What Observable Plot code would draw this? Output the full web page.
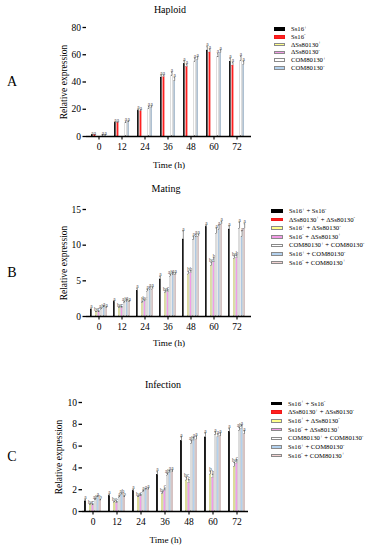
<!DOCTYPE html>
<html><head><meta charset="utf-8">
<script src="https://cdn.jsdelivr.net/npm/d3@7"></script>
<script src="https://cdn.jsdelivr.net/npm/@observablehq/plot@0.6"></script>
<style>
body{margin:0;background:#fff;}
#root{position:relative;width:368px;height:550px;font-family:"Liberation Serif","Times New Roman",serif;color:#000;overflow:hidden;background:#fff}
.abs{position:absolute}
.title{font-size:10px;transform:translate(-50%,-50%);white-space:nowrap}
.plabel{font-size:14px;transform:translate(-50%,-50%)}
.lg{position:absolute;font-size:6.7px;white-space:nowrap;line-height:1;transform:translateY(-50%)}
.sw{position:absolute;height:3.5px;box-sizing:border-box}
sup{font-size:72%;vertical-align:0;position:relative;top:-0.5em;line-height:0}
svg text{font-family:"Liberation Serif","Times New Roman",serif}
</style></head><body><div id="root"></div>
<script>
// ---------- data ----------
const times = ["0","12","24","36","48","60","72"];

// Panel A: Haploid
const hapLabels = ["Ss16^+","Ss16^-","ΔSs80130^+","ΔSs80130^-","COM80130^+","COM80130^-"];
const hapColors = ["#000000","#ff2020","#ffff8c","#f29be6","#ffffff","#b3d1ee"];
const hapBlack  = [0.9, 9.8, 18.6, 43.3, 53.0, 63.1, 54.8];
const hapRed    = [0.9, 9.7, 18.4, 43.4, 50.8, 61.6, 52.0];
const hapYellow = [0, 0, 0, 0, 0, 0, 0];
const hapPink   = [0, 0, 0, 0, 0, 0, 0];
const hapWhite  = [0.9, 10.0, 20.6, 44.8, 55.1, 58.1, 55.7];
const hapBlue   = [0.9, 10.4, 21.0, 40.6, 56.2, 61.3, 52.6];
const hapErrBlack  = [0.3, 0.8, 1.2, 1.8, 2.5, 2.8, 2.6];
const hapErrRed    = [0.3, 0.7, 1.0, 1.6, 2.2, 2.5, 2.2];
const hapErrWhite  = [0.3, 0.8, 1.4, 2.4, 2.4, 2.6, 3.2];
const hapErrBlue   = [0.3, 0.8, 1.3, 2.6, 2.2, 2.2, 2.6];
const hapLetters   = ["a","a","a","a","a","a","a"];

// Panel B: Mating
const matLabels = ["Ss16^+ + Ss16^-","ΔSs80130^+ + ΔSs80130^-","Ss16^+ + ΔSs80130^-","Ss16^- + ΔSs80130^+","COM80130^+ + COM80130^-","Ss16^+ + COM80130^-","Ss16^- + COM80130^+"];
const pairColors = ["#000000","#ff2020","#ffff8c","#f29be6","#ffffff","#b3d1ee","#f4d4d4"];
const matBlack  = [0.95, 2.0, 3.6, 5.2, 10.8, 12.5, 12.2];
const matRed    = [0, 0, 0, 0, 0, 0, 0];
const matYellow = [0.6, 1.2, 1.9, 3.3, 5.9, 7.1, 8.1];
const matPink   = [0.6, 1.2, 2.1, 3.4, 6.1, 7.6, 8.2];
const matWhite  = [1.0, 1.9, 3.5, 5.6, 10.7, 11.6, 12.3];
const matBlue   = [1.3, 2.1, 3.8, 5.8, 11.1, 12.2, 11.2];
const matRose   = [1.2, 2.0, 3.8, 5.8, 11.2, 12.9, 12.3];
const matErrBlack  = [0.15, 0.2, 0.3, 0.4, 1.2, 0.3, 0.5];
const matErrYellow = [0.1, 0.15, 0.2, 0.3, 0.4, 0.5, 0.4];
const matErrPink   = [0.1, 0.15, 0.2, 0.3, 0.3, 0.6, 0.4];
const matErrWhite  = [0.15, 0.2, 0.3, 0.3, 0.5, 0.8, 0.9];
const matErrBlue   = [0.15, 0.2, 0.3, 0.3, 0.4, 0.6, 0.8];
const matErrRose   = [0.15, 0.2, 0.3, 0.3, 0.3, 0.4, 0.7];
const matLetBlack  = ["a","a","a","a","a","a","a"];
const matLetYellow = ["bc","bc","b","bc","b","bc","bc"];
const matLetPink   = ["c","c","bc","c","b","b","b"];
const matLetWhite  = ["ab","ab","a","ab","a","a","a"];
const matLetBlue   = ["a","a","a","a","a","a","a"];
const matLetRose   = ["a","a","a","a","a","a","a"];

// Panel C: Infection
const infBlack  = [0.93, 1.39, 1.85, 3.35, 6.45, 6.8, 7.3];
const infRed    = [0, 0, 0, 0, 0, 0, 0];
const infYellow = [0.62, 0.83, 1.3, 1.6, 2.85, 3.4, 4.1];
const infPink   = [0.56, 0.78, 1.4, 1.9, 2.6, 3.1, 4.4];
const infWhite  = [1.05, 1.28, 1.78, 3.3, 6.2, 7.0, 7.4];
const infBlue   = [1.3, 1.52, 1.93, 3.55, 6.5, 6.8, 7.6];
const infRose   = [1.0, 1.3, 2.0, 3.6, 6.6, 6.9, 7.1];
const infErrBlack  = [0.15, 0.15, 0.15, 0.3, 0.4, 0.4, 0.3];
const infErrYellow = [0.08, 0.1, 0.12, 0.2, 0.3, 0.3, 0.4];
const infErrPink   = [0.08, 0.1, 0.12, 0.2, 0.3, 0.3, 0.3];
const infErrWhite  = [0.1, 0.12, 0.15, 0.2, 0.3, 0.3, 0.3];
const infErrBlue   = [0.12, 0.15, 0.15, 0.2, 0.3, 0.3, 0.3];
const infErrRose   = [0.1, 0.12, 0.15, 0.2, 0.3, 0.3, 0.3];
const infLetBlack  = ["a","a","a","a","a","a","a"];
const infLetYellow = ["bc","bc","bc","bc","bc","b","bc"];
const infLetPink   = ["c","c","c","c","c","b","c"];
const infLetWhite  = ["ab","a","a","ab","ab","a","ab"];
const infLetBlue   = ["a","ab","a","a","a","a","a"];
const infLetRose   = ["b","b","a","a","a","a","a"];

// ---------- drawing ----------
const FONT = "'Liberation Serif','Times New Roman',serif";
const root = document.getElementById("root");
const strokeFor = c => c === "#000000" ? "#000" : (c === "#ff2020" ? "#f01818" : "#8a8a8a");
const supHTML = s => s.replace(/\^([+\-])/g, "<sup>$1</sup>");

function panel(o) {
  const n = o.series.length;
  const step = (o.range[1] - o.range[0]) / (times.length - o.pi);
  const bw = step * (1 - o.pi);
  const slot = bw / n;
  const marks = [];
  o.series.forEach((s, i) => {
    const rows = s.values.map((v, j) => ({t: times[j], v, e: s.err ? s.err[j] : 0, l: s.letters ? s.letters[j] : ""}));
    const dxc = (i + 0.5) * slot - bw / 2;
    const vis = rows.filter(r => r.v > 0);
    marks.push(Plot.barY(vis, {x: "t", y: "v", fill: o.colors[i], stroke: strokeFor(o.colors[i]), strokeWidth: 0.3,
      insetLeft: i * slot + 0.15, insetRight: (n - 1 - i) * slot + 0.15}));
    marks.push(Plot.ruleX(vis, {x: "t", y1: "v", y2: r => r.v + r.e, dx: dxc, stroke: "#222", strokeWidth: 0.5}));
    marks.push(Plot.tickY(vis, {x: "t", y: r => r.v + r.e, insetLeft: i * slot + slot * 0.1, insetRight: (n - 1 - i) * slot + slot * 0.1, stroke: "#222", strokeWidth: 0.5}));
    marks.push(Plot.text(vis, {x: "t", y: r => r.v + r.e, dx: dxc, dy: -0.3, text: "l", lineAnchor: "bottom", fontSize: 5.2, fill: "#444", fontFamily: FONT}));
  });
  marks.push(Plot.ruleY([0], {stroke: "#000", strokeWidth: 1.3}));
  marks.push(Plot.axisY({ticks: o.yTicks, tickSize: 3.5, tickPadding: 2, fontSize: 9.5, label: null, line: true, strokeWidth: 1.3, fontFamily: FONT}));
  marks.push(Plot.axisX({tickSize: 3.5, tickPadding: 3, fontSize: 9.5, label: null, strokeWidth: 1.1, fontFamily: FONT}));
  marks.push(Plot.text(["Time (h)"], {frameAnchor: "bottom", lineAnchor: "middle", textAnchor: "middle", dy: o.xLabelDy, fontSize: 9.2, fontFamily: FONT}));
  marks.push(Plot.text(["Relative expression"], {frameAnchor: "left", textAnchor: "middle", lineAnchor: "middle", dx: o.yLabelDx, rotate: -90, fontSize: 9.5, fontFamily: FONT}));
  const svg = Plot.plot({
    width: o.width, height: o.height,
    marginLeft: o.mL, marginRight: o.mR, marginTop: o.mT, marginBottom: o.mB,
    style: {fontFamily: FONT, background: "transparent", overflow: "visible", color: "#000"},
    x: {type: "band", domain: times, range: o.range, paddingInner: o.pi, paddingOuter: 0, align: 0.5},
    y: {domain: [0, o.yMax]},
    marks
  });
  svg.setAttribute("font-family", FONT);
  const wrap = document.createElement("div");
  wrap.className = "abs";
  wrap.style.left = "0px"; wrap.style.top = o.top + "px";
  wrap.appendChild(svg);
  root.appendChild(wrap);

  const t = document.createElement("div");
  t.className = "abs title"; t.style.left = o.titleX + "px"; t.style.top = o.titleY + "px";
  t.textContent = o.title; root.appendChild(t);
  const p = document.createElement("div");
  p.className = "abs plabel"; p.style.left = "12px"; p.style.top = o.letterY + "px";
  p.textContent = o.letter; root.appendChild(p);

  o.legendLabels.forEach((lab, i) => {
    const y = o.legY0 + i * o.legStep;
    const sw = document.createElement("div");
    sw.className = "sw";
    sw.style.left = o.swX + "px"; sw.style.width = o.swW + "px";
    sw.style.top = (y - 1.75) + "px";
    sw.style.background = o.colors[i];
    sw.style.border = "0.7px solid " + strokeFor(o.colors[i]);
    root.appendChild(sw);
    const tx = document.createElement("div");
    tx.className = "lg"; tx.style.left = o.txX + "px"; tx.style.top = y + "px";
    tx.innerHTML = supHTML(lab);
    root.appendChild(tx);
  });
}

panel({
  top: 0, width: 260, height: 180, mL: 86, mR: 9, mT: 27, mB: 44,
  range: [88, 248], pi: 0.33, yMax: 80, yTicks: [0, 20, 40, 60, 80],
  xLabelDy: 29, yLabelDx: -23,
  colors: hapColors,
  series: [
    {values: hapBlack, err: hapErrBlack, letters: hapLetters},
    {values: hapRed, err: hapErrRed, letters: hapLetters},
    {values: hapYellow},
    {values: hapPink},
    {values: hapWhite, err: hapErrWhite, letters: hapLetters},
    {values: hapBlue, err: hapErrBlue, letters: hapLetters}
  ],
  title: "Haploid", titleX: 170, titleY: 9, letter: "A", letterY: 82,
  legendLabels: hapLabels, legY0: 29, legStep: 7.8, swX: 274, swW: 11, txX: 291
});

panel({
  top: 180, width: 260, height: 180, mL: 86, mR: 9, mT: 29, mB: 44,
  range: [86.5, 248], pi: 0.25, yMax: 15, yTicks: [0, 5, 10, 15],
  xLabelDy: 27, yLabelDx: -23,
  colors: pairColors,
  series: [
    {values: matBlack, err: matErrBlack, letters: matLetBlack},
    {values: matRed},
    {values: matYellow, err: matErrYellow, letters: matLetYellow},
    {values: matPink, err: matErrPink, letters: matLetPink},
    {values: matWhite, err: matErrWhite, letters: matLetWhite},
    {values: matBlue, err: matErrBlue, letters: matLetBlue},
    {values: matRose, err: matErrRose, letters: matLetRose}
  ],
  title: "Mating", titleX: 166, titleY: 188, letter: "B", letterY: 273,
  legendLabels: matLabels, legY0: 211, legStep: 8.6, swX: 271, swW: 12, txX: 289
});

panel({
  top: 360, width: 260, height: 190, mL: 82, mR: 12, mT: 42, mB: 39,
  range: [82.5, 246.5], pi: 0.28, yMax: 10, yTicks: [0, 2, 4, 6, 8, 10],
  xLabelDy: 29, yLabelDx: -24,
  colors: pairColors,
  series: [
    {values: infBlack, err: infErrBlack, letters: infLetBlack},
    {values: infRed},
    {values: infYellow, err: infErrYellow, letters: infLetYellow},
    {values: infPink, err: infErrPink, letters: infLetPink},
    {values: infWhite, err: infErrWhite, letters: infLetWhite},
    {values: infBlue, err: infErrBlue, letters: infLetBlue},
    {values: infRose, err: infErrRose, letters: infLetRose}
  ],
  title: "Infection", titleX: 163, titleY: 384, letter: "C", letterY: 457,
  legendLabels: matLabels, legY0: 403.5, legStep: 8.7, swX: 271, swW: 11, txX: 288
});
</script></body></html>
